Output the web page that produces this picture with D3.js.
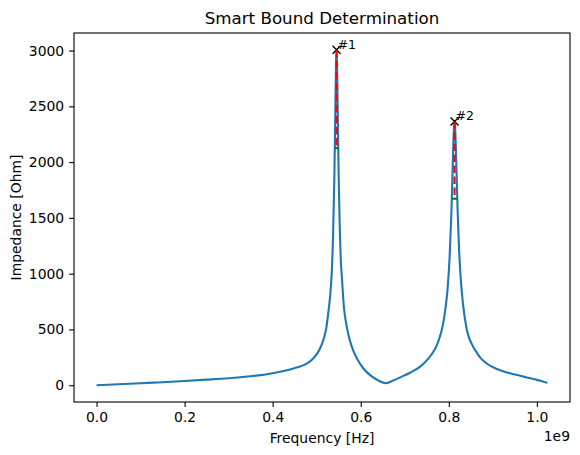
<!DOCTYPE html>
<html>
  <head>
    <meta charset="utf-8" />
    <script src="https://d3js.org/d3.v7.min.js"></script>
    <title>Smart Bound Determination</title>
    <style>
      body { margin: 0; background: #fff; }
      text { font-family: "DejaVu Sans", sans-serif; fill: #000; }
      .tick text { font-size: 13.9px; }
      .tick line { stroke: #000; stroke-width: 1.1px; }
    </style>
  </head>
  <body>

    <svg id="chart" width="580" height="455"></svg>

    <script>

      // frequency in GHz (plotted as Hz, offset 1e9) and impedance in Ohm
      var freqGHz = [0.000, 0.050, 0.100, 0.150, 0.200, 0.250, 0.300, 0.350, 0.400, 0.430,
        0.460, 0.470, 0.480, 0.492, 0.502, 0.507, 0.512, 0.517, 0.522, 0.526, 0.530, 0.534,
        0.537, 0.540, 0.542, 0.544, 0.545, 0.546, 0.548, 0.550, 0.552, 0.555,
        0.557, 0.562, 0.568, 0.574, 0.583, 0.592, 0.606, 0.622, 0.640, 0.657,
        0.672, 0.692, 0.712, 0.735, 0.752, 0.762, 0.772, 0.782, 0.787, 0.791, 0.797,
        0.802, 0.806, 0.809, 0.811, 0.813, 0.815, 0.817, 0.820, 0.823, 0.827,
        0.832, 0.841, 0.852, 0.863, 0.872, 0.886, 0.909, 0.939, 0.962, 0.977, 0.992, 1.012, 1.024];
      var impedance = [0, 9, 18, 27, 38, 50, 63, 80, 108, 132,
        165, 180, 200, 240, 290, 325, 370, 430, 520, 640, 780, 1000,
        1320, 1850, 2380, 2910, 3007, 2910, 2380, 1850, 1470, 1100,
        976, 690, 530, 420, 310, 235, 150, 88, 42, 18,
        40, 75, 112, 167, 232, 282, 350, 465, 550, 650, 854,
        1164, 1566, 1988, 2252, 2365, 2252, 1988, 1566, 1245, 957,
        734, 495, 370, 295, 245, 195, 145, 107, 85, 70, 55, 36, 21];

      var peakLabels = ["#1", "#2"];
      var peakFreq = [0.545, 0.813];
      var peakValue = [3007, 2365];
      var bandLevel = [2126, 1672];
      var bandLow = [0.5411, 0.8068];
      var bandHigh = [0.5489, 0.8192];

      var xTicks = [0, 0.2, 0.4, 0.6, 0.8, 1.0];
      var yTicks = [0, 500, 1000, 1500, 2000, 2500, 3000];

      var svg = d3.select("#chart");
      var plotLeft = 74, plotRight = 570, plotTop = 33, plotBottom = 402;

      // 5% margins like matplotlib
      var xExt = d3.extent(freqGHz);
      var yExt = [d3.min(impedance), d3.max(peakValue)];
      var xPad = (xExt[1] - xExt[0]) * 0.05;
      var yPad = (yExt[1] - yExt[0]) * 0.05;

      var x = d3.scaleLinear()
        .domain([(xExt[0] - xPad) * 1e9, (xExt[1] + xPad) * 1e9])
        .range([plotLeft, plotRight]);
      var y = d3.scaleLinear()
        .domain([yExt[0] - yPad, yExt[1] + yPad])
        .range([plotBottom, plotTop]);

      var points = freqGHz.map(function(f, i) { return [f * 1e9, impedance[i]]; });

      var line = d3.line()
        .curve(d3.curveMonotoneX)
        .x(function(d) { return x(d[0]); })
        .y(function(d) { return y(d[1]); });

      var plot = svg.append("g");

      plot.append("path")
        .datum(points)
        .attr("d", line)
        .attr("fill", "none")
        .attr("stroke", "#1f77b4")
        .attr("stroke-width", 2.1)
        .attr("stroke-linejoin", "round");

      // peak markers
      peakFreq.forEach(function(f, i) {
        var px = x(f * 1e9), py = y(peakValue[i]);
        plot.append("path")
          .attr("d", "M" + (px - 4) + "," + (py - 4) + "L" + (px + 4) + "," + (py + 4) +
                     "M" + (px - 4) + "," + (py + 4) + "L" + (px + 4) + "," + (py - 4))
          .attr("stroke", "#000")
          .attr("stroke-width", 1.4);
        plot.append("text")
          .attr("x", px + 1)
          .attr("y", py - 1)
          .attr("font-size", 12.5)
          .text(peakLabels[i]);

        // red dashed drop to -3 dB level
        plot.append("line")
          .attr("x1", px).attr("x2", px)
          .attr("y1", py).attr("y2", y(bandLevel[i]))
          .attr("stroke", "red")
          .attr("stroke-width", 2.1)
          .attr("stroke-dasharray", "7.7,3.3");

        // green bandwidth segment
        plot.append("line")
          .attr("x1", x(bandLow[i] * 1e9)).attr("x2", x(bandHigh[i] * 1e9))
          .attr("y1", y(bandLevel[i])).attr("y2", y(bandLevel[i]))
          .attr("stroke", "green")
          .attr("stroke-width", 2.1);
      });

      // axes
      var xAxis = d3.axisBottom(x)
        .tickValues(xTicks.map(function(t) { return t * 1e9; }))
        .tickFormat(function(d) { return (d / 1e9).toFixed(1); })
        .tickSizeOuter(0)
        .tickSize(4.9)
        .tickPadding(4.9);
      var yAxis = d3.axisLeft(y)
        .tickValues(yTicks)
        .tickFormat(d3.format("d"))
        .tickSizeOuter(0)
        .tickSize(4.9)
        .tickPadding(4.9);

      var gx = svg.append("g").attr("transform", "translate(0," + plotBottom + ")").call(xAxis);
      var gy = svg.append("g").attr("transform", "translate(" + plotLeft + ",0)").call(yAxis);
      gx.select(".domain").remove();
      gy.select(".domain").remove();
      svg.selectAll(".tick text").attr("font-family", "DejaVu Sans").attr("fill", "#000");

      svg.append("rect")
        .attr("x", plotLeft).attr("y", plotTop)
        .attr("width", plotRight - plotLeft).attr("height", plotBottom - plotTop)
        .attr("fill", "none")
        .attr("stroke", "#000")
        .attr("stroke-width", 1.1);

      // labels
      svg.append("text")
        .attr("x", (plotLeft + plotRight) / 2).attr("y", 24)
        .attr("text-anchor", "middle")
        .attr("font-size", 16.7)
        .text("Smart Bound Determination");

      svg.append("text")
        .attr("x", (plotLeft + plotRight) / 2).attr("y", 443)
        .attr("text-anchor", "middle")
        .attr("font-size", 13.9)
        .text("Frequency [Hz]");

      svg.append("text")
        .attr("transform", "translate(21," + ((plotTop + plotBottom) / 2) + ") rotate(-90)")
        .attr("text-anchor", "middle")
        .attr("font-size", 13.9)
        .text("Impedance [Ohm]");

      svg.append("text")
        .attr("x", plotRight).attr("y", 441)
        .attr("text-anchor", "end")
        .attr("font-size", 13.9)
        .text("1e9");

    </script>

  </body>
</html>
